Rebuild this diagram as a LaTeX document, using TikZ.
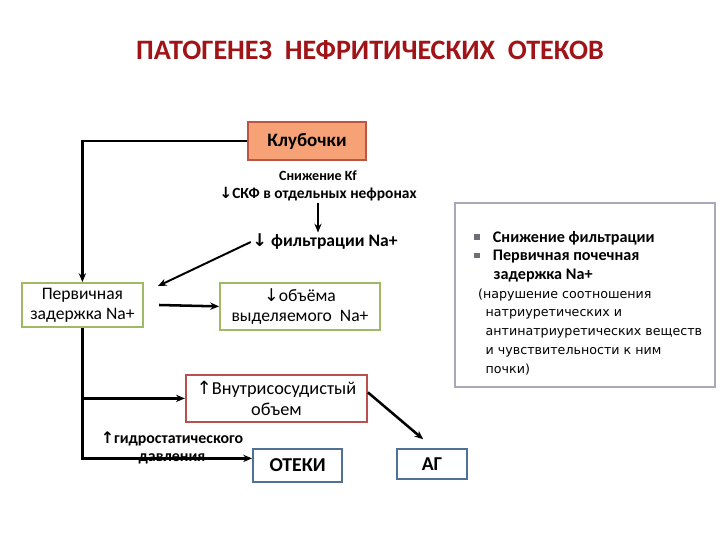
\documentclass[tikz,border=0pt]{standalone}
\usepackage{fontspec}
\setmainfont{Carlito}
\newfontfamily\arrfont{DejaVu Sans}
\newfontfamily\notefont{DejaVu Sans}
\usetikzlibrary{arrows.meta,positioning,calc}
\definecolor{titlered}{RGB}{160,20,24}
\definecolor{klubfill}{RGB}{246,162,118}
\definecolor{klubedge}{RGB}{188,86,68}
\definecolor{greenedge}{RGB}{160,185,100}
\definecolor{rededge}{RGB}{185,80,80}
\definecolor{blueedge}{RGB}{80,112,150}
\definecolor{noteedge}{RGB}{168,168,186}
\definecolor{bulletgray}{RGB}{110,110,120}
\newcommand{\dnar}{{\arrfont ↓}}
\newcommand{\upar}{{\arrfont ↑}}
\newcommand{\sqbullet}{\textcolor{bulletgray}{\rule[0.15em]{0.35em}{0.35em}}\hspace{0.8em}}
\tikzset{
  >={Stealth[length=2.2mm,width=1.8mm]},
  block/.style={
    draw, line width=1.3pt, fill=white, align=center, inner sep=2pt,
    font=\fontsize{12.5}{14.5}\selectfont},
  greenblock/.style={block, draw=greenedge},
  redblock/.style={block, draw=rededge, font=\fontsize{13}{15}\selectfont},
  blueblock/.style={block, draw=blueedge, font=\fontsize{14}{15}\selectfont\bfseries},
  klubblock/.style={block, draw=klubedge, fill=klubfill, font=\fontsize{13.5}{15}\selectfont\bfseries},
  notebox/.style={draw=noteedge, line width=1.4pt, fill=white},
  lbl/.style={align=center, inner sep=1pt, font=\fontsize{11}{12.5}\selectfont\bfseries},
  % arrow kinds
  mainflow/.style={->, line width=1.8pt},
  midflow/.style={->, line width=1.4pt},
  thinflow/.style={->, line width=0.8pt},
}

\begin{document}
\begin{tikzpicture}
\useasboundingbox (0,0) rectangle (18,13.5);

\node[font=\fontsize{20}{22}\selectfont\bfseries, text=titlered] (title) at (9.25,12.25)
  {ПАТОГЕНЕЗ\ \ НЕФРИТИЧЕСКИХ\ \ ОТЕКОВ};

% ---------- main chain ----------
\node[klubblock, minimum width=2.95cm, minimum height=0.95cm] (klub) at (7.675,9.975) {Клубочки};
\node[lbl] (kf) at (7.95,8.85) {{\fontsize{10}{12}\selectfont Снижение Kf}\\\dnar СКФ в отдельных нефронах};
\node[lbl, font=\fontsize{12.5}{14}\selectfont\bfseries] (filt) at (8.125,7.45) {\dnar\ фильтрации Na+};

\node[greenblock, minimum width=3.03cm, minimum height=1.1cm] (perv) at (2.06,5.875) {Первичная\\задержка Na+};
\node[greenblock, minimum width=4.0cm, minimum height=1.18cm] (obj) at (7.5,5.84) {\dnar объёма\\выделяемого\ \ Na+};

\node[redblock, minimum width=4.53cm, minimum height=1.18cm] (vnutr) at (6.91,3.54) {\upar Внутрисосудистый\\объем};
\node[lbl, font=\fontsize{11.3}{12.5}\selectfont\bfseries] (hydro) at (4.3,2.3) {\upar гидростатического\\давления};

\node[blueblock, minimum width=2.23cm, minimum height=0.83cm] (oteki) at (7.44,1.86) {ОТЕКИ};
\node[blueblock, minimum width=1.75cm, minimum height=0.75cm] (ag) at (10.8,1.9) {АГ};

% ---------- side note ----------
\node[notebox, minimum width=6.5cm, minimum height=4.6cm] (note) at (14.625,6.125) {};
\node[anchor=north west, inner sep=0pt, align=left, font=\fontsize{11.5}{13.3}\selectfont]
  (notetext) at ([xshift=0.5cm,yshift=-0.72cm]note.north west)
  {\sqbullet\textbf{Снижение фильтрации}\\
   \sqbullet\textbf{Первичная почечная}\\
   \hspace{1.2em}\textbf{задержка Na+}\\
   {\notefont\fontsize{9}{13.9}\selectfont\hspace{0.3em}(нарушение соотношения}\\
   {\notefont\fontsize{9}{13.9}\selectfont\hspace{0.9em}натриуретических и}\\
   {\notefont\fontsize{9}{13.9}\selectfont\hspace{0.9em}антинатриуретических веществ}\\
   {\notefont\fontsize{9}{13.9}\selectfont\hspace{0.9em}и чувствительности к ним}\\
   {\notefont\fontsize{9}{13.9}\selectfont\hspace{0.9em}почки)}};

% ---------- connectors ----------
\draw[mainflow] (klub.west) -| (perv.north);
\draw[thinflow] (kf.south) -- (kf.south |- filt.north);
\draw[midflow] (filt.west) -- ([xshift=0.35cm,yshift=-0.1cm]perv.north east);
\draw[mainflow] ([xshift=0.38cm]perv.east) -- (obj.west);
\draw[mainflow] (perv.south) |- (vnutr.west);
\draw[mainflow] (perv.south) |- ([yshift=0.18cm]oteki.west);
\draw[mainflow] ([yshift=0.15cm]vnutr.east) -- ([xshift=-0.22cm,yshift=0.22cm]ag.north);

\end{tikzpicture}
\end{document}
